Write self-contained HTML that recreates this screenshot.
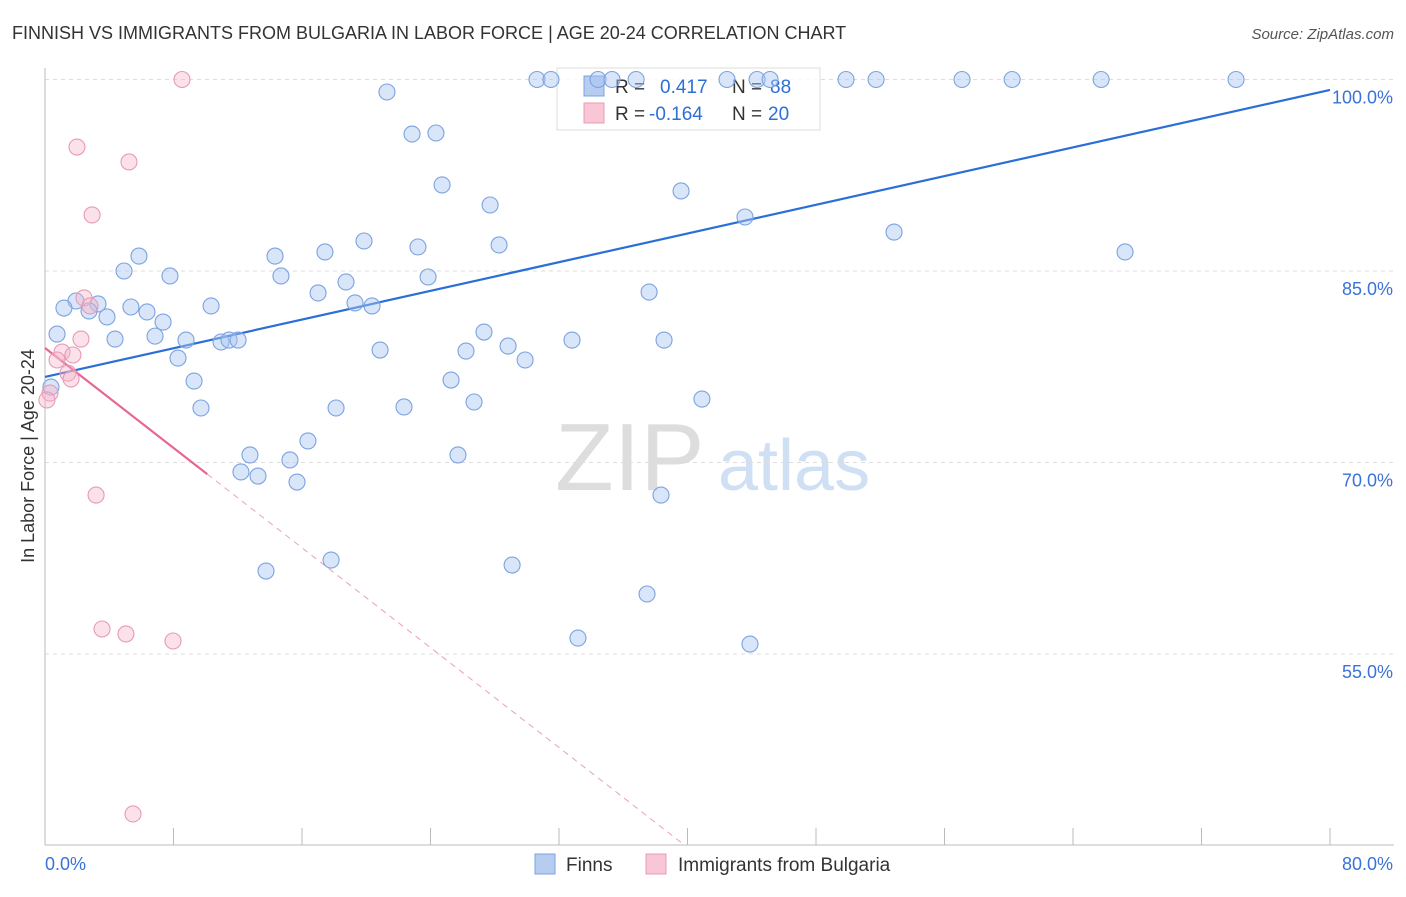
<!DOCTYPE html>
<html><head><meta charset="utf-8"><style>
body{margin:0;background:#fff;font-family:"Liberation Sans",sans-serif;}
svg text{font-family:"Liberation Sans",sans-serif;}
</style></head><body>
<svg id="chart" width="1406" height="892" xmlns="http://www.w3.org/2000/svg">
<text x="12" y="39" font-size="18" fill="#333">FINNISH VS IMMIGRANTS FROM BULGARIA IN LABOR FORCE | AGE 20-24 CORRELATION CHART</text>
<text x="1394" y="39" font-size="15" fill="#555" text-anchor="end" font-style="italic">Source: ZipAtlas.com</text>
<text transform="translate(34,456) rotate(-90)" font-size="18" fill="#333" text-anchor="middle">In Labor Force | Age 20-24</text>
<g><text x="555" y="490" font-size="96" fill="#ddd" font-family="Liberation Serif">ZIP</text><text x="718" y="490" font-size="72" fill="#cfe0f4">atlas</text></g>
<g id="grid"></g><g id="axes"></g>
<g>
<rect x="557" y="68" width="263" height="62" fill="#fff" fill-opacity="0.8" stroke="#ddd"/>
<rect x="584" y="76" width="20" height="20" fill="#b7cdf0" stroke="#7ba3e0"/>
<rect x="584" y="103" width="20" height="20" fill="#f8c6d5" stroke="#e89ab5"/>
<text x="615" y="93" font-size="19" fill="#333">R = </text><text x="660" y="93" font-size="19" fill="#2e6fd6">0.417</text>
<text x="732" y="93" font-size="19" fill="#333">N = </text><text x="770" y="93" font-size="19" fill="#2e6fd6">88</text>
<text x="615" y="120" font-size="19" fill="#333">R = </text><text x="649" y="120" font-size="19" fill="#2e6fd6">-0.164</text>
<text x="732" y="120" font-size="19" fill="#333">N = </text><text x="768" y="120" font-size="19" fill="#2e6fd6">20</text>
</g>
<g id="trend"></g><g id="pts"></g>
<g>
<rect x="535" y="854" width="20" height="20" fill="#b7cdf0" stroke="#7ba3e0"/><text x="566" y="871" font-size="19" fill="#333">Finns</text>
<rect x="646" y="854" width="20" height="20" fill="#f8c6d5" stroke="#e89ab5"/><text x="678" y="871" font-size="19" fill="#333">Immigrants from Bulgaria</text>
</g>
</svg>
<script>
const xTicks=[0,8,16,24,32,40,48,56,64,72,80];
const yTicks=[55,70,85,100];
const yTickLabels=["55.0%","70.0%","85.0%","100.0%"];
const blueX=[30.63,31.50,34.43,35.30,36.80,42.46,44.33,45.14,49.87,51.74,57.09,60.21,65.75,74.15,21.29,22.85,24.34,24.72,27.71,39.60,43.58,52.86,67.24,19.86,23.22,28.27,5.85,14.32,17.43,4.92,7.78,14.69,18.74,23.85,17.00,37.61,1.93,3.30,10.34,19.30,20.36,1.18,2.74,3.86,5.35,6.35,7.35,0.75,4.36,6.85,8.78,10.96,11.46,12.02,27.33,32.81,38.54,20.86,26.21,28.83,29.89,8.28,9.28,25.28,9.71,18.12,22.35,26.71,40.90,0.37,12.76,16.37,15.25,12.20,13.26,15.69,25.71,38.35,13.76,17.81,29.08,37.48,33.18,43.89];
const blueY=[100,100,100,100,100,100,100,100,100,100,100,100,100,100,99.02,95.73,95.81,91.74,90.17,91.27,89.23,88.05,86.49,87.35,86.88,87.04,86.17,86.17,86.49,85.0,84.61,84.61,84.14,84.53,83.28,83.35,82.65,82.42,82.26,82.50,82.26,82.10,81.87,81.40,82.18,81.79,81.0,80.06,79.67,79.90,79.59,79.44,79.59,79.59,80.22,79.59,79.59,78.81,78.73,79.12,78.03,78.18,76.38,76.46,74.27,74.27,74.35,74.74,74.97,75.91,70.59,71.69,70.20,69.26,68.94,68.47,70.59,67.45,61.5,62.36,61.97,59.70,56.25,55.78];
const pinkX=[8.53,1.99,5.23,2.93,2.43,2.80,2.24,1.06,1.74,0.75,1.43,1.62,0.31,0.12,3.18,3.55,5.04,7.97,5.48];
const pinkY=[100,94.71,93.54,89.39,82.89,82.26,79.67,78.65,78.42,78.03,77.0,76.54,75.44,74.9,67.45,56.96,56.57,56.02,42.47];
const blueTrend=[76.70,99.18];
const pinkTrend=[78.97,-0.978];
const NS="http://www.w3.org/2000/svg";
const X=v=>45+v/80*1285, Y=v=>79.5+(100-v)*12.767;
function mk(tag,attrs,parent){const e=document.createElementNS(NS,tag);for(const k in attrs)e.setAttribute(k,attrs[k]);document.getElementById(parent).appendChild(e);return e;}
yTicks.forEach((t,i)=>{
 const g=mk('line',{x1:45,x2:1394,y1:Y(t),y2:Y(t),stroke:'#ddd','stroke-dasharray':'4,4'},'grid');
 
 
 const l=mk('text',{x:1393,y:Y(t)+24,'font-size':18,fill:'#3a72d8','text-anchor':'end'},'grid');
 l.textContent=yTickLabels[i];
 
 
});
const ax=mk('line',{x1:45,x2:45,y1:68,y2:845,stroke:'#bbb'},'axes');


const bx=mk('line',{x1:45,x2:1394,y1:845,y2:845,stroke:'#bbb'},'axes');


xTicks.forEach(t=>{const e=mk('line',{x1:X(t),x2:X(t),y1:828,y2:845,stroke:'#bbb'},'axes');
 
 });
const xl0=mk('text',{x:45,y:870,'font-size':18,fill:'#3a72d8'},'axes');xl0.textContent='0.0%';


const xl1=mk('text',{x:1393,y:870,'font-size':18,fill:'#3a72d8','text-anchor':'end'},'axes');xl1.textContent='80.0%';


blueX.forEach((x,i)=>{const c=mk('circle',{cx:X(x),cy:Y(blueY[i]),r:8,fill:'rgba(170,198,240,0.45)',stroke:'#7ba3e0','stroke-width':1.1},'pts');
 
 });
pinkX.forEach((x,i)=>{const c=mk('circle',{cx:X(x),cy:Y(pinkY[i]),r:8,fill:'rgba(246,180,202,0.4)',stroke:'#e89ab5','stroke-width':1.1},'pts');
 
 });
const bt=mk('line',{x1:X(0),y1:Y(blueTrend[0]),x2:X(80),y2:Y(blueTrend[1]),stroke:'#2a6fd8','stroke-width':2.2},'trend');


const pe=(40.1-pinkTrend[0])/pinkTrend[1];
const ps=mk('line',{x1:X(0),y1:Y(pinkTrend[0]),x2:X(10.1),y2:Y(pinkTrend[0]+pinkTrend[1]*10.1),stroke:'#e86690','stroke-width':2.2},'trend');


const pd=mk('line',{x1:X(10.1),y1:Y(pinkTrend[0]+pinkTrend[1]*10.1),x2:X(pe),y2:Y(40.1),stroke:'#eaa0b8','stroke-width':1,'stroke-dasharray':'6,5'},'trend');


</script>
</body></html>
